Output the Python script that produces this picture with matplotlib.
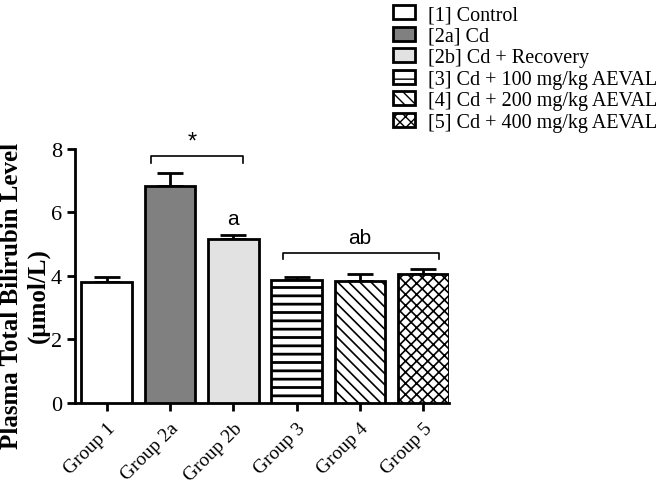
import matplotlib.pyplot as plt
import matplotlib as mpl
import numpy as np

groups = ['Group 1', 'Group 2a', 'Group 2b', 'Group 3', 'Group 4', 'Group 5']
means = [3.8, 6.83, 5.15, 3.88, 3.85, 4.05]
sems = [0.16, 0.42, 0.14, 0.1, 0.22, 0.18]
legend_labels = ['[1] Control', '[2a] Cd', '[2b] Cd + Recovery',
                 '[3] Cd + 100 mg/kg AEVAL', '[4] Cd + 200 mg/kg AEVAL',
                 '[5] Cd + 400 mg/kg AEVAL']
colors = ['white', '#808080', '#e2e2e2', 'white', 'white', 'white']
hatches = [None, None, None, '--', '\\\\\\', 'xxx']

serif = 'Liberation Serif'
sans = 'Liberation Sans'

fig = plt.figure(figsize=(6.66, 4.85), dpi=100)
ax = fig.add_axes([0.1126, 0.167, 0.561, 0.524])

x = np.arange(len(groups))
bars = []
for i in range(len(groups)):
    hl = 2.0 if hatches[i] == '--' else 1.2
    with mpl.rc_context({'hatch.linewidth': hl}):
        b = ax.bar(x[i], means[i], width=0.8, color=colors[i], edgecolor='black',
                   linewidth=2, hatch=hatches[i], zorder=3, label=legend_labels[i])
    bars.append(b)

ax.errorbar(x, means, yerr=[np.zeros(len(x)), sems], fmt='none', ecolor='black',
            elinewidth=2, capsize=9.5, capthick=2, zorder=2)

ax.set_xlim(-0.5, 5.4)
ax.set_ylim(0, 8)
ax.set_yticks([0, 2, 4, 6, 8])
ax.set_xticks(x)
ax.set_xticklabels(groups, rotation=45, ha='right', rotation_mode='anchor',
                   fontfamily=serif, fontsize=14)
for lab in ax.get_yticklabels():
    lab.set_fontfamily(serif)
    lab.set_fontsize(16)
ax.tick_params(axis='both', width=2, length=6)
ax.tick_params(axis='x', pad=6)
ax.spines['top'].set_visible(False)
ax.spines['right'].set_visible(False)
ax.spines['left'].set_linewidth(2)
ax.spines['bottom'].set_linewidth(2)

fig.text(0.037, 0.39, 'Plasma Total Bilirubin Level\n(\u03bcmol/L)', rotation=90,
         ha='center', va='center', fontfamily=serif, fontweight='bold',
         fontsize=18, linespacing=1.2)

# significance brackets
def bracket(x0, x1, y, h, yr=None):
    yr = y - h if yr is None else yr
    ax.plot([x0, x0, x1, x1], [y - h, y, y, yr], color='black', lw=1.2,
            clip_on=False, zorder=4)

bracket(0.7, 2.15, 7.77, 0.2)
ax.text(1.35, 7.9, '*', ha='center', va='bottom', fontfamily=sans, fontsize=17)
ax.text(2.0, 5.5, 'a', ha='center', va='bottom', fontfamily=sans, fontsize=15)
bracket(2.78, 5.25, 4.72, 0.2)
ax.text(4.0, 4.92, 'ab', ha='center', va='bottom', fontfamily=sans, fontsize=15)

fig.legend(handles=[b.patches[0] for b in bars], labels=legend_labels,
           loc='upper left', bbox_to_anchor=(0.572, 1.012), frameon=False,
           prop={'family': serif, 'size': 14.5}, handlelength=1.1, handleheight=0.7,
           labelspacing=0.12, handletextpad=0.65, borderaxespad=0.2)

fig.savefig('out.png', dpi=100)
